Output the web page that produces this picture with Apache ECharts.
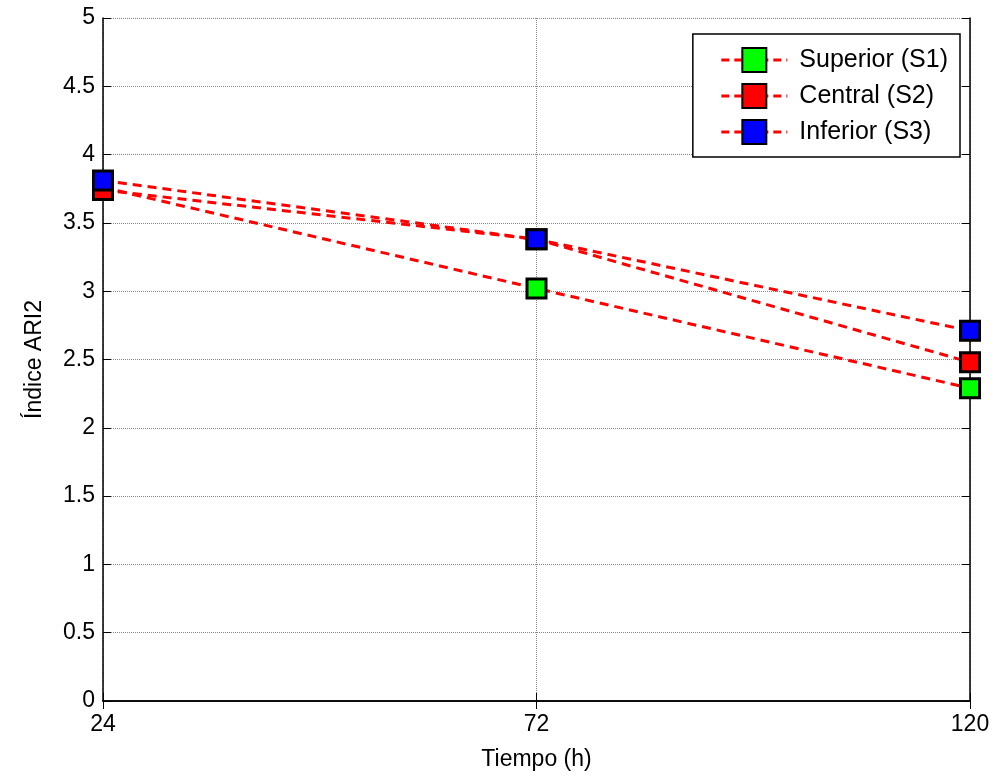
<!DOCTYPE html>
<html>
<head>
<meta charset="utf-8">
<script src="https://cdn.jsdelivr.net/npm/echarts@6/dist/echarts.min.js"></script>
<style>
  html, body { margin: 0; padding: 0; background: #fff; }
  #chart { width: 995px; height: 776px; }
</style>
</head>
<body>
<div id="chart"></div>
<script>
// Tiempo de muestreo (h)
const tiempos = ['24', '72', '120'];
// Índice ARI2 por sección
const superiorS1 = [3.76, 3.02, 2.29];
const centralS2 = [3.74, 3.38, 2.48];
const inferiorS3 = [3.81, 3.38, 2.71];
const nombres = ['Superior (S1)', 'Central (S2)', 'Inferior (S3)'];
const colores = ['#00ff00', '#ff0000', '#0000ff'];

const FONT = 'Liberation Sans, Arial, sans-serif';
const FS = 23;

function serie(nombre, datos, color) {
  return {
    name: nombre,
    type: 'line',
    data: datos,
    symbol: 'rect',
    symbolSize: 19,
    itemStyle: { color: color, borderColor: '#000', borderWidth: 3 },
    lineStyle: { color: '#ff0000', width: 3, type: [9, 6] },
    emphasis: { disabled: true },
    animation: false
  };
}

const chart = echarts.init(document.getElementById('chart'), null, { renderer: 'canvas' });
chart.setOption({
  animation: false,
  backgroundColor: '#fff',
  grid: { left: 103, right: 25, top: 18, bottom: 72 },
  legend: {
    data: nombres,
    right: 35,
    top: 34,
    orient: 'vertical',
    itemWidth: 66,
    itemHeight: 30,
    itemGap: 10,
    padding: [13, 12, 12, 27],
    backgroundColor: '#fff',
    borderColor: '#000',
    borderWidth: 1.5,
    borderRadius: 0,
    lineStyle: { width: 3, type: [8, 5] },
    textStyle: { fontFamily: FONT, fontSize: 25, color: '#000', padding: [0, 0, 0, 7] }
  },
  xAxis: [{
    type: 'category',
    data: tiempos,
    boundaryGap: false,
    name: 'Tiempo (h)',
    nameLocation: 'middle',
    nameGap: 47,
    nameTextStyle: { fontFamily: FONT, fontSize: FS, color: '#000' },
    axisLine: { lineStyle: { color: '#000', width: 1.5 } },
    axisTick: { inside: true, length: 8, lineStyle: { color: '#000' } },
    axisLabel: { fontFamily: FONT, fontSize: FS, color: '#000', margin: 12 },
    splitLine: { show: true, lineStyle: { color: '#888', type: 'dotted', width: 1 } }
  }, {
    type: 'category',
    data: tiempos,
    boundaryGap: false,
    position: 'top',
    axisLine: { lineStyle: { color: '#000', width: 1.5 } },
    axisTick: { inside: true, length: 8, lineStyle: { color: '#000' } },
    axisLabel: { show: false },
    splitLine: { show: false }
  }],
  yAxis: [{
    type: 'value',
    min: 0,
    max: 5,
    interval: 0.5,
    name: 'Índice ARI2',
    nameLocation: 'middle',
    nameGap: 57,
    nameTextStyle: { fontFamily: FONT, fontSize: FS, color: '#000' },
    axisLine: { show: true, lineStyle: { color: '#000', width: 1.5 } },
    axisTick: { show: true, inside: true, length: 8, lineStyle: { color: '#000' } },
    axisLabel: { fontFamily: FONT, fontSize: FS, color: '#000', margin: 8 },
    splitLine: { show: true, lineStyle: { color: '#888', type: 'dotted', width: 1 } }
  }, {
    type: 'value',
    min: 0,
    max: 5,
    interval: 0.5,
    position: 'right',
    axisLine: { show: true, lineStyle: { color: '#000', width: 1.5 } },
    axisTick: { show: true, inside: true, length: 8, lineStyle: { color: '#000' } },
    axisLabel: { show: false },
    splitLine: { show: false }
  }],
  series: [
    serie(nombres[0], superiorS1, colores[0]),
    serie(nombres[1], centralS2, colores[1]),
    serie(nombres[2], inferiorS3, colores[2])
  ]
});
</script>
</body>
</html>
